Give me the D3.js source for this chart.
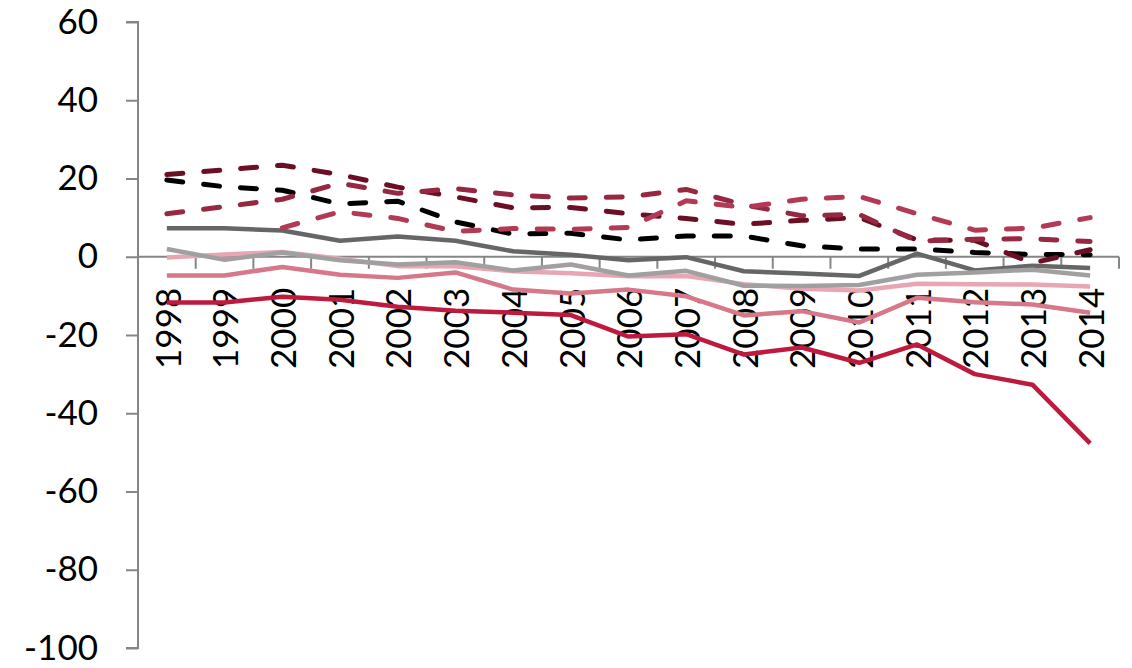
<!DOCTYPE html>
<html>
<head>
<meta charset="utf-8">
<script src="https://cdn.jsdelivr.net/npm/d3@7/dist/d3.min.js"></script>
<style>
  html, body { margin: 0; padding: 0; background: #fff; }
  svg { display: block; }
  text { font-family: Lato, "Open Sans", "Noto Sans", sans-serif; font-weight: 400; fill: #000; }
</style>
</head>
<body>
<svg id="chart" width="1132" height="668"></svg>
<script>
// Years on the category axis
const years = ["1998","1999","2000","2001","2002","2003","2004","2005","2006","2007","2008","2009","2010","2011","2012","2013","2014"];

// Y-axis tick labels
const yTicks = [60, 40, 20, 0, -20, -40, -60, -80, -100];

// Solid series
const crimsonSolid = [-11.7,-11.7,-10.2,-11,-12.8,-13.8,-14.3,-14.9,-20.4,-19.8,-25,-23.2,-27.1,-22.4,-30,-32.7,-47.7];
const pinkSolid    = [-4.8,-4.8,-2.6,-4.6,-5.4,-4,-8.4,-9.4,-8.4,-10.1,-15,-13.9,-16.8,-10.5,-11.6,-12.2,-14.3];
const roseSolid    = [-0.2,0.6,1.2,-0.5,-2.4,-2.4,-3.7,-4.2,-5,-4.9,-7,-8.2,-8.6,-6.9,-7,-7.1,-7.6];
const darkGraySolid  = [7.3,7.3,6.7,4.1,5.2,4.1,1.4,0.5,-0.9,-0.1,-3.7,-4.3,-4.9,0.8,-3.5,-2.3,-2.9];
const lightGraySolid = [2,-0.8,1.1,-0.9,-2,-1.4,-3.5,-2,-4.8,-3.6,-7.4,-7.5,-7.2,-4.6,-4,-3.3,-4.8];

// Dashed series
const blackDashed  = [19.6,17.9,17,13.5,14.2,8.9,5.8,6,4.3,5.3,5.3,2.8,2,2,1.1,0.6,0.5];
const maroonDashed = [21,22.2,23.4,21,17.8,15.3,12.5,12.6,11,9.8,8.3,9.3,10,4.3,4.2,-1.6,1.8];
const wineDashed   = [11,12.8,14.7,18.8,16.2,17.4,15.8,15,15.3,17.2,13.3,10.5,10.8,4,4.5,4.6,3.9];
const redDashed    = [null,null,7.4,11.5,9.8,6.5,7.2,7,7.5,14.3,12.6,14.7,15.4,11,6.8,7.3,10];

const series = [
  { values: roseSolid,      color: "#e8a6b3", dashed: false },
  { values: pinkSolid,      color: "#d6788a", dashed: false },
  { values: crimsonSolid,   color: "#be1a3e", dashed: false },
  { values: darkGraySolid,  color: "#666666", dashed: false },
  { values: lightGraySolid, color: "#a0a0a0", dashed: false },
  { values: blackDashed,    color: "#000000", dashed: true },
  { values: maroonDashed,   color: "#6b0f24", dashed: true },
  { values: wineDashed,     color: "#962841", dashed: true },
  { values: redDashed,      color: "#b23a55", dashed: true }
];

const svg = d3.select("#chart");

const x = d3.scaleBand().domain(years).range([138, 1119]).paddingInner(0).paddingOuter(0);
const y = d3.scaleLinear().domain([-100, 60]).range([648, 22]);
const axisColor = "#868686";

// Y axis
const yAxis = svg.append("g")
  .attr("transform", "translate(138,0)")
  .call(d3.axisLeft(y).tickValues(yTicks).tickSize(12).tickSizeOuter(12).tickPadding(28).tickFormat(d3.format("d")));
yAxis.selectAll("path.domain").attr("stroke", axisColor).attr("stroke-width", 2).attr("d", `M-12,${y(60)}H0V${y(-100)}H-12`);
yAxis.selectAll(".tick line").attr("stroke", axisColor).attr("stroke-width", 2);
yAxis.selectAll(".tick text")
  .style("font-size", "35px")
  .style("font-family", 'Lato, "Open Sans", sans-serif')
  .style("font-weight", 400)
  .attr("fill", "#000");
yAxis.selectAll(".tick text").text(d => d < 0 ? "-" + Math.abs(d) : d);

// X axis along zero, with tick marks between categories
const y0 = y(0);
const xg = svg.append("g");
xg.append("line")
  .attr("x1", x.range()[0]).attr("x2", x.range()[1])
  .attr("y1", y0).attr("y2", y0)
  .attr("stroke", axisColor).attr("stroke-width", 2);
const bounds = years.map(d => x(d)).concat([x.range()[1]]);
xg.selectAll("line.xtick").data(bounds).enter().append("line")
  .attr("class", "xtick")
  .attr("x1", d => d).attr("x2", d => d)
  .attr("y1", y0).attr("y2", y0 + 12)
  .attr("stroke", axisColor).attr("stroke-width", 2);
xg.selectAll("text.xlab").data(years).enter().append("text")
  .attr("class", "xlab")
  .attr("transform", d => `translate(${x(d) + x.bandwidth() / 2 + 1.5},${y0 + 31}) rotate(-90)`)
  .attr("text-anchor", "end")
  .attr("dy", "0.35em")
  .style("font-size", "35px")
  .text(d => d);

// Series lines
const line = d3.line()
  .defined(d => d.v !== null)
  .x(d => x(d.year) + x.bandwidth() / 2)
  .y(d => y(d.v));

series.forEach(s => {
  const pts = years.map((yr, i) => ({ year: yr, v: s.values[i] }));
  svg.append("path")
    .datum(pts)
    .attr("fill", "none")
    .attr("stroke", s.color)
    .attr("stroke-width", s.dashed ? 5 : 4.5)
    .attr("stroke-linejoin", "round")
    .attr("stroke-linecap", s.dashed ? "round" : "butt")
    .attr("stroke-dasharray", s.dashed ? "16,21" : null)
    .attr("d", line);
});
</script>
</body>
</html>
